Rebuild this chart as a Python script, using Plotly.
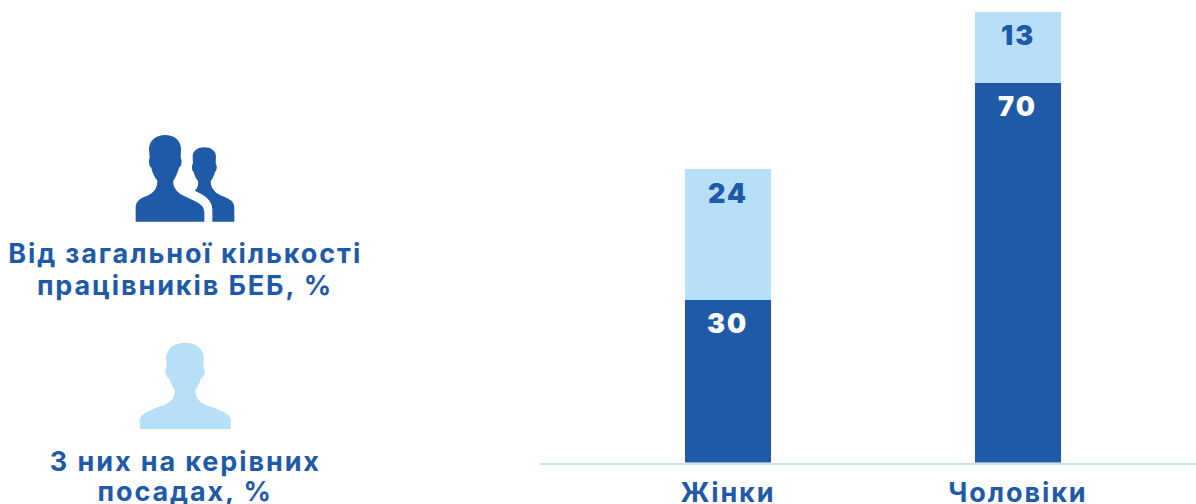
import plotly.graph_objects as go

W, H = 1196, 504
categories = ["Жінки", "Чоловіки"]
total_staff = [30, 70]
managers = [24, 13]
DARK = "#1f5aa8"
LIGHT = "#b8dff8"
AXIS = "#cfe0f2"
FONT = "Inter"

legend_lines = [("Від загальної кількості", 253), ("працівників БЕБ, %", 285),
                ("З них на керівних", 461.5), ("посадах, %", 491)]


def path(segments, ox, oy):
    """Icon outline given in zoom-crop units (3x), converted to page fractions."""
    out = []
    for cmd, pts in segments:
        coords = " ".join(f"{(ox + x / 3) / W:.5f},{1 - (oy + y / 3) / H:.5f}" for x, y in pts)
        out.append(f"{cmd} {coords}")
    return " ".join(out) + " Z"


big = [("M", [(407, 305)]), ("L", [(407, 262)]),
       ("C", [(407, 245), (420, 236), (432, 231)]),
       ("C", [(455, 222), (472, 212), (472, 182)]),
       ("C", [(462, 170), (456, 155), (454, 143)]),
       ("C", [(447, 138), (445, 122), (449, 113)]),
       ("L", [(447, 88)]),
       ("C", [(447, 60), (470, 45), (495, 45)]),
       ("C", [(522, 45), (543, 60), (543, 88)]),
       ("L", [(542, 113)]),
       ("C", [(547, 122), (545, 138), (537, 143)]),
       ("C", [(534, 155), (528, 170), (520, 182)]),
       ("C", [(518, 200), (530, 216), (548, 226)]),
       ("L", [(590, 246)]),
       ("C", [(605, 254), (613, 264), (613, 278)]),
       ("L", [(613, 305)])]
back = [("M", [(703, 305)]), ("L", [(703, 262)]),
        ("C", [(702, 248), (695, 241), (685, 236)]),
        ("C", [(660, 226), (632, 216), (632, 184)]),
        ("C", [(638, 175), (643, 165), (645, 156)]),
        ("C", [(651, 152), (652, 138), (647, 130)]),
        ("L", [(648, 110)]),
        ("C", [(648, 92), (632, 82), (613, 82)]),
        ("C", [(594, 82), (578, 92), (578, 110)]),
        ("L", [(579, 130)]),
        ("C", [(574, 138), (575, 152), (581, 156)]),
        ("C", [(583, 165), (588, 175), (594, 184)]),
        ("C", [(596, 195), (592, 205), (584, 212)]),
        ("C", [(615, 226), (637, 240), (637, 270)]),
        ("L", [(637, 305)])]
single = [("M", [(420, 297)]), ("L", [(420, 268)]),
          ("C", [(422, 254), (440, 245), (462, 236)]),
          ("C", [(490, 225), (525, 220), (525, 180)]),
          ("C", [(518, 170), (511, 158), (509, 146)]),
          ("C", [(497, 142), (492, 120), (500, 110)]),
          ("L", [(498, 85)]),
          ("C", [(498, 55), (525, 38), (555, 38)]),
          ("C", [(585, 38), (612, 55), (612, 85)]),
          ("L", [(610, 110)]),
          ("C", [(618, 120), (614, 142), (602, 146)]),
          ("C", [(600, 158), (593, 170), (586, 180)]),
          ("C", [(586, 220), (620, 225), (650, 236)]),
          ("C", [(672, 245), (690, 254), (692, 268)]),
          ("L", [(692, 297)])]

shapes = [
    dict(type="path", xref="paper", yref="paper", path=path(big, 0, 120), fillcolor=DARK, line_width=0),
    dict(type="path", xref="paper", yref="paper", path=path(back, 0, 120), fillcolor=DARK, line_width=0),
    dict(type="path", xref="paper", yref="paper", path=path(single, 0, 330), fillcolor=LIGHT, line_width=0),
]

annotations = []
for i, c in enumerate(categories):
    annotations.append(dict(x=c, y=total_staff[i], text=str(total_staff[i]), yshift=-24, showarrow=False,
                            yanchor="middle", font=dict(family=FONT, size=27, color="white", weight=900)))
    annotations.append(dict(x=c, y=total_staff[i] + managers[i], text=str(managers[i]), yshift=-24, showarrow=False,
                            yanchor="middle", font=dict(family=FONT, size=27, color=DARK, weight=900)))
for line, y in legend_lines:
    annotations.append(dict(xref="paper", yref="paper", x=185 / W, y=1 - y / H, text=line, showarrow=False,
                            xanchor="center", yanchor="middle",
                            font=dict(family=FONT, size=27, color=DARK, weight=700)))

fig = go.Figure()
fig.add_bar(x=categories, y=total_staff, marker=dict(color=DARK, line_width=0), name="Від загальної кількості працівників БЕБ, %")
fig.add_bar(x=categories, y=managers, marker=dict(color=LIGHT, line_width=0), name="З них на керівних посадах, %")
fig.update_layout(
    barmode="stack", bargap=0.703, width=W, height=H, autosize=False, showlegend=False,
    margin=dict(l=0, r=0, t=0, b=0, autoexpand=False), paper_bgcolor="white", plot_bgcolor="white",
    shapes=shapes, annotations=annotations,
    xaxis=dict(domain=[540 / W, 1], range=[-0.648, 1.614], showgrid=False, zeroline=False,
               showline=True, linecolor=AXIS, linewidth=1.5, ticks="", ticklabelstandoff=5,
               tickfont=dict(family=FONT, size=27, color=DARK, weight=700), fixedrange=True),
    yaxis=dict(domain=[41.5 / H, 1], range=[0, 85.2], visible=False, fixedrange=True),
)
fig.write_html("out.html", config={"displayModeBar": False},
               post_script="document.body.style.margin='0';document.body.style.overflow='hidden';"
                           "document.querySelectorAll('.annotation-text,.xtick text').forEach(function(t){t.style.letterSpacing='1.9px';});")
